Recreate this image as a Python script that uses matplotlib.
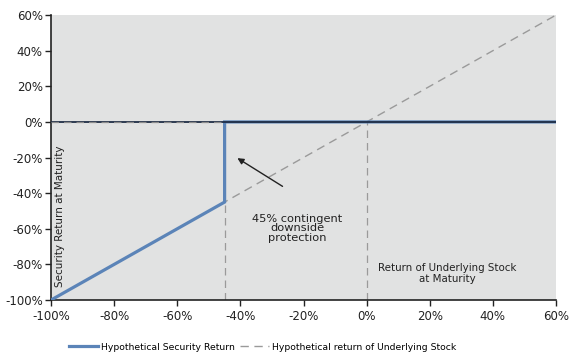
import matplotlib
matplotlib.use("Agg")
import matplotlib.pyplot as plt
from matplotlib.ticker import FuncFormatter

# data
underlying_x = [-100, 60]
underlying_y = [-100, 60]
security_x = [-100, -45, -45, 60]
security_y = [-100, -45, 0, 0]
barrier = -45
x_ticks = [-100, -80, -60, -40, -20, 0, 20, 40, 60]
y_ticks = [-100, -80, -60, -40, -20, 0, 20, 40, 60]

fig = plt.figure(figsize=(5.74, 3.59), dpi=100)
ax = fig.add_axes([0.0889, 0.1643, 0.8797, 0.7937])
ax.set_facecolor("#e1e2e2")
ax.set_xlim(-100, 60)
ax.set_ylim(-100, 60)

blue = "#5b84b8"
gray = "#9a9a9a"

# reference verticals
ax.plot([barrier, barrier], [-100, barrier], color=gray, lw=0.9, ls=(0, (6, 4)), zorder=2)
ax.plot([0, 0], [-100, 0], color=gray, lw=0.9, ls=(0, (6, 4)), zorder=2)

# underlying dashed
ax.plot(underlying_x, underlying_y, color=gray, lw=1.0, ls=(0, (6, 4)), zorder=2,
        label="Hypothetical return of Underlying Stock")
# security line
ax.plot(security_x, security_y, color=blue, lw=2.3, zorder=3,
        label="Hypothetical Security Return", solid_joinstyle="miter")
# zero line
ax.axhline(0, color="#1f2d45", lw=1.3, zorder=4)
ax.plot([-100, barrier], [0, 0], color="#8a8a8a", lw=0.9, ls=(0, (6, 4)), zorder=5)

for s in ["top", "right"]:
    ax.spines[s].set_visible(False)
for s in ["left", "bottom"]:
    ax.spines[s].set_color("#222222")
    ax.spines[s].set_linewidth(1.2)

ax.set_xticks(x_ticks)
ax.set_yticks(y_ticks)
fmt = FuncFormatter(lambda v, p: f"{int(v)}%")
ax.xaxis.set_major_formatter(fmt)
ax.yaxis.set_major_formatter(fmt)
ax.tick_params(axis="both", direction="out", length=4, width=1, color="#222222",
               labelsize=8.5, labelcolor="#222222")
ax.tick_params(axis="y", pad=2)
ax.tick_params(axis="x", pad=3)

ax.annotate("", xy=(-41.7, -19.5), xytext=(-25.9, -37.0),
            arrowprops=dict(arrowstyle="-|>", color="#222222", lw=1.0, mutation_scale=9),
            zorder=6)
ax.text(-21.9, -59.7, "45% contingent\ndownside\nprotection", ha="center", va="center",
        fontsize=8.2, color="#222222", linespacing=0.95)
ax.text(25.5, -85, "Return of Underlying Stock\nat Maturity", ha="center", va="center",
        fontsize=7.4, color="#222222", linespacing=1.15)
ax.text(-97.1, -53, "Security Return at Maturity", rotation=90, ha="center", va="center",
        fontsize=7.5, color="#222222")

handles, labels = ax.get_legend_handles_labels()
leg = fig.legend(handles[::-1], labels[::-1], loc="center", bbox_to_anchor=(0.458, 0.033),
                 ncol=2, frameon=False, fontsize=6.7, handlelength=3.1, columnspacing=0.6,
                 handletextpad=0.3)

fig.savefig("out.png", dpi=100)
